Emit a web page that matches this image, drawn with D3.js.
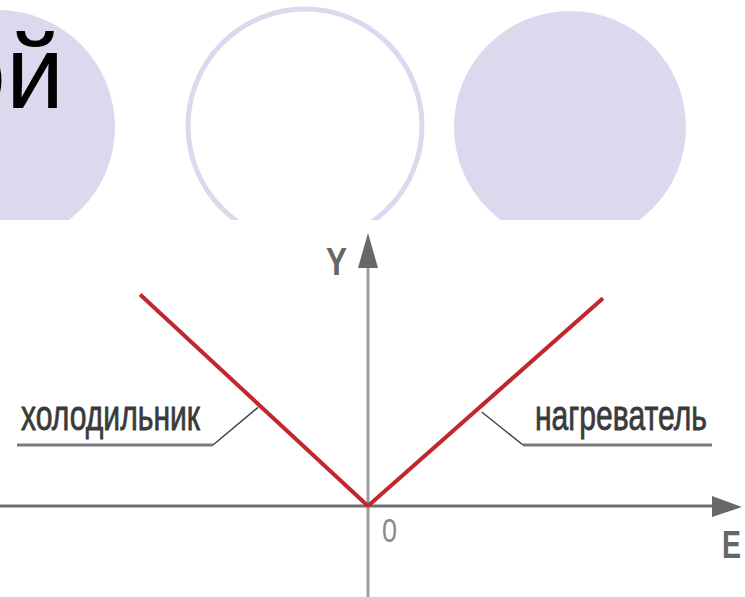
<!DOCTYPE html>
<html>
<head>
<meta charset="utf-8">
<script src="https://cdn.jsdelivr.net/npm/d3@7"></script>
<style>
  body { margin: 0; background: #fff; }
  svg { display: block; }
</style>
</head>
<body>
<div id="main"></div>
<script>
var ctx = {
    w: 745,
    h: 597,
};

// data
var titleText = "ой";
var axisLabels = { x: "E", y: "Y", origin: "0" };
var coolerArm = [ { E: -4.85, Y: 4.5 }, { E: 0, Y: 0 } ];
var heaterArm = [ { E: 0, Y: 0 }, { E: 5.0, Y: 4.42 } ];
var callouts = [
    { text: "холодильник", E: -2.34, Y: 2.1, side: "left" },
    { text: "нагреватель", E: 2.42, Y: 2.0, side: "right" },
];

var svg = d3.select("#main").append("svg")
    .attr("width", ctx.w)
    .attr("height", ctx.h);

// slide decoration behind the picture
var lav = "#dad9ed";
svg.append("circle").attr("cx", -2).attr("cy", 127).attr("r", 117).attr("fill", lav);
svg.append("circle").attr("cx", 305).attr("cy", 126).attr("r", 117)
    .attr("fill", "#fff").attr("stroke", lav).attr("stroke-width", 5);
svg.append("circle").attr("cx", 570).attr("cy", 127).attr("r", 116).attr("fill", lav);

// title runs off the left edge, as on the slide
svg.append("text")
    .attr("x", 64)
    .attr("y", 108)
    .attr("text-anchor", "end")
    .style("font-family", "'Liberation Sans', Arial, sans-serif")
    .style("font-size", "104px")
    .attr("fill", "#000")
    .text(titleText);

// the picture itself sits on white
svg.append("rect").attr("x", 0).attr("y", 220).attr("width", ctx.w).attr("height", ctx.h - 220).attr("fill", "#fff");

var x = d3.scaleLinear().domain([0, 1]).range([368, 415]);
var y = d3.scaleLinear().domain([0, 1]).range([506, 459]);

var g = svg.append("g");

// axes (no ticks, only arrows)
g.append("line")
    .attr("x1", 368).attr("x2", 368)
    .attr("y1", ctx.h).attr("y2", 264)
    .attr("stroke", "#9e9e9e").attr("stroke-width", 3);
g.append("path")
    .attr("d", "M358,268 L368,233 L378,268 Z")
    .attr("fill", "#686868");

g.append("line")
    .attr("x1", 0).attr("x2", 716)
    .attr("y1", 506).attr("y2", 506)
    .attr("stroke", "#6e6e6e").attr("stroke-width", 3);
g.append("path")
    .attr("d", "M712,496 L742,507 L712,517 Z")
    .attr("fill", "#686868");

var labelFont = "'Liberation Sans', Arial, sans-serif";

// condensed look: small font stretched vertically
var tallText = function (parent, tx, ty, str, size, len, sy) {
    return parent.append("text")
        .attr("transform", `translate(${tx},${ty}) scale(1,${sy})`)
        .attr("x", 0).attr("y", 0)
        .attr("textLength", len).attr("lengthAdjust", "spacingAndGlyphs")
        .style("font-family", labelFont)
        .style("font-size", size + "px")
        .text(str);
};

tallText(g, 326, 275, axisLabels.y, 28, 21, 1.36)
    .style("font-weight", "bold").attr("fill", "#666");
tallText(g, 722, 558, axisLabels.x, 28, 19, 1.36)
    .style("font-weight", "bold").attr("fill", "#666");
tallText(g, 382, 542, axisLabels.origin, 26, 15, 1.27)
    .attr("fill", "#8a8a8a");

// V-shaped characteristic
var line = d3.line().x((d) => x(d.E)).y((d) => y(d.Y));
[coolerArm, heaterArm].forEach(function (arm) {
    g.append("path")
        .datum(arm)
        .attr("d", line)
        .attr("fill", "none")
        .attr("stroke", "#c1272d")
        .attr("stroke-width", 4)
        .attr("stroke-linejoin", "round");
});

// callouts with leader lines
callouts.forEach(function (c) {
    var px = x(c.E), py = y(c.Y);
    var left = c.side == "left";
    var knee = left ? 213 : 523;
    var end = left ? 17 : 712;
    g.append("line")
        .attr("x1", end).attr("x2", knee).attr("y1", 445).attr("y2", 445)
        .attr("stroke", "#7a7a7a").attr("stroke-width", 3);
    g.append("line")
        .attr("x1", knee).attr("x2", px).attr("y1", 445).attr("y2", py)
        .attr("stroke", "#444").attr("stroke-width", 1.5);
    tallText(g, left ? 21 : 535, 430, c.text, 31, left ? 179 : 172, 1.36)
        .attr("fill", "#3a3a3a")
        .attr("stroke", "#3a3a3a")
        .attr("stroke-width", 0.6);
});
</script>
</body>
</html>
